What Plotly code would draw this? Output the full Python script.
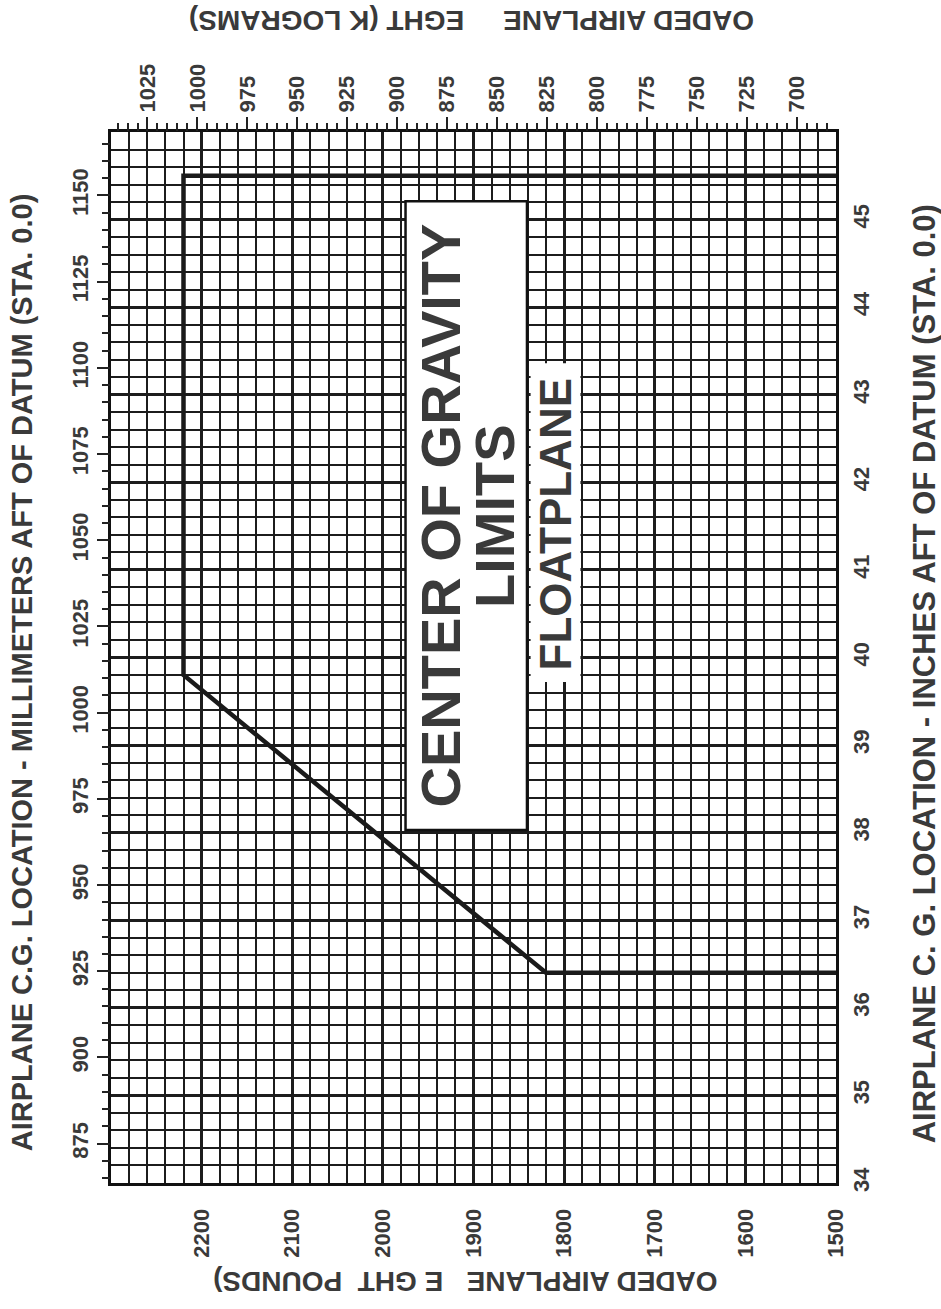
import plotly.graph_objects as go

# ---- data ----
weight_lb = [1500, 2220, 2220, 1820, 1500]          # loaded airplane weight (lb)
cg_in = [45.5, 45.5, 39.8, 36.4, 36.4]              # C.G. location (in aft of datum)

lb_ticks = [1500, 1600, 1700, 1800, 1900, 2000, 2100, 2200]
in_ticks = [34, 35, 36, 37, 38, 39, 40, 41, 42, 43, 44, 45]
kg_ticks = [700, 725, 750, 775, 800, 825, 850, 875, 900, 925, 950, 975, 1000, 1025]
mm_ticks = [875, 900, 925, 950, 975, 1000, 1025, 1050, 1075, 1100, 1125, 1150]

LB_RANGE = [2300, 1500]
IN_RANGE = [34, 46]
LB_PER_KG = 2.20462
MM_PER_IN = 25.4

FONT = "Liberation Sans, Arial, sans-serif"
TXT = "#3a3a3a"
GRID = "#1c1c1c"

fig = go.Figure()

fig.add_trace(go.Scatter(
    x=weight_lb, y=cg_in, mode="lines",
    line=dict(color="#1a1a1a", width=4.5),
    hoverinfo="skip", xaxis="x", yaxis="y"))

# helper trace so the secondary (kg / mm) axes are drawn
fig.add_trace(go.Scatter(
    x=[kg_ticks[6]], y=[mm_ticks[5]], mode="markers",
    marker=dict(opacity=0), hoverinfo="skip", xaxis="x2", yaxis="y2"))

tickfont = dict(family=FONT, size=22, color=TXT, weight="bold")

fig.update_layout(
    width=941, height=1309,
    margin=dict(l=111, r=105, t=132, b=126),
    paper_bgcolor="white", plot_bgcolor="white",
    showlegend=False,
    xaxis=dict(
        range=LB_RANGE, side="bottom", anchor="y",
        tickmode="array", tickvals=lb_ticks, ticktext=[str(v) for v in lb_ticks],
        tickangle=-90, tickfont=tickfont, ticks="", ticklabelstandoff=14,
        showgrid=True, gridcolor=GRID, gridwidth=3,
        minor=dict(tick0=1500, dtick=20, showgrid=True, gridcolor=GRID, gridwidth=1.5, ticks=""),
        showline=True, linecolor="#111111", linewidth=3, mirror=True,
        zeroline=False, fixedrange=True),
    yaxis=dict(
        range=IN_RANGE, side="right", anchor="x",
        tickmode="array", tickvals=in_ticks, ticktext=[str(v) for v in in_ticks],
        tickangle=-90, tickfont=tickfont, ticks="", ticklabelstandoff=4,
        showgrid=True, gridcolor=GRID, gridwidth=3,
        minor=dict(tick0=34, dtick=0.2, showgrid=True, gridcolor=GRID, gridwidth=1.5, ticks=""),
        showline=True, linecolor="#111111", linewidth=3, mirror=True,
        zeroline=False, fixedrange=True),
    xaxis2=dict(
        range=[LB_RANGE[0] / LB_PER_KG, LB_RANGE[1] / LB_PER_KG],
        overlaying="x", side="top", anchor="y",
        tickmode="array", tickvals=kg_ticks, ticktext=[str(v) for v in kg_ticks],
        tickangle=-90, tickfont=tickfont,
        ticks="outside", ticklen=14, tickwidth=2, tickcolor="#222222",
        minor=dict(tick0=700, dtick=5, ticks="outside", ticklen=8, tickwidth=2,
                   tickcolor="#222222", showgrid=False),
        showgrid=False, zeroline=False, showline=False, fixedrange=True),
    yaxis2=dict(
        range=[IN_RANGE[0] * MM_PER_IN, IN_RANGE[1] * MM_PER_IN],
        overlaying="y", side="left", anchor="x",
        tickmode="array", tickvals=mm_ticks, ticktext=[str(v) for v in mm_ticks],
        tickangle=-90, tickfont=tickfont,
        ticks="outside", ticklen=13, tickwidth=2, tickcolor="#222222",
        minor=dict(tick0=865, dtick=5, ticks="outside", ticklen=8, tickwidth=2,
                   tickcolor="#222222", showgrid=False),
        showgrid=False, zeroline=False, showline=False, fixedrange=True),
)

# white label boxes
fig.add_shape(type="rect", xref="x", yref="y", x0=1975, x1=1841, y0=38.03, y1=45.21,
              fillcolor="white", line=dict(color="#111111", width=2.5), layer="above")
fig.add_shape(type="rect", xref="x", yref="y", x0=1837, x1=1782, y0=39.72, y1=43.36,
              fillcolor="white", line=dict(width=0), layer="above")

big = dict(family=FONT, size=56, color=TXT, weight="bold")
fig.add_annotation(x=1936, y=41.62, xref="x", yref="y", text="CENTER OF GRAVITY",
                   textangle=-90, showarrow=False, font=big,
                   xanchor="center", yanchor="middle")
fig.add_annotation(x=1877, y=41.62, xref="x", yref="y", text="LIMITS",
                   textangle=-90, showarrow=False, font=big,
                   xanchor="center", yanchor="middle")
fig.add_annotation(x=1809, y=41.53, xref="x", yref="y", text="FLOATPLANE",
                   textangle=-90, showarrow=False,
                   font=dict(family=FONT, size=44, color=TXT, weight="bold"),
                   xanchor="center", yanchor="middle")

nb = "\u00a0"
title_font = dict(family=FONT, size=28, color=TXT, weight="bold")
fig.add_annotation(xref="paper", yref="paper", x=-0.1228, y=0.486,
                   text="AIRPLANE C.G. LOCATION - MILLIMETERS AFT OF DATUM (STA. 0.0)",
                   textangle=-90, showarrow=False,
                   font=dict(family=FONT, size=29, color=TXT, weight="bold"),
                   xanchor="center", yanchor="middle")
fig.add_annotation(xref="paper", yref="paper", x=1.1214, y=0.484,
                   text="AIRPLANE C. G. LOCATION - INCHES AFT OF DATUM (STA. 0.0)",
                   textangle=-90, showarrow=False,
                   font=dict(family=FONT, size=31, color=TXT, weight="bold"),
                   xanchor="center", yanchor="middle")
fig.add_annotation(xref="paper", yref="paper", x=0.488, y=-0.0942,
                   text="OADED AIRPLANE" + nb * 3 + "E GHT" + nb * 2 + "POUNDS)",
                   textangle=180, showarrow=False, font=title_font,
                   xanchor="center", yanchor="middle")
fig.add_annotation(xref="paper", yref="paper", x=0.498, y=1.106,
                   text="OADED AIRPLANE" + nb * 5 + "EGHT (K LOGRAMS)",
                   textangle=180, showarrow=False, font=title_font,
                   xanchor="center", yanchor="middle")

fig.write_html("out.html", config={"displayModeBar": False},
               post_script="document.body.style.margin='0';")
